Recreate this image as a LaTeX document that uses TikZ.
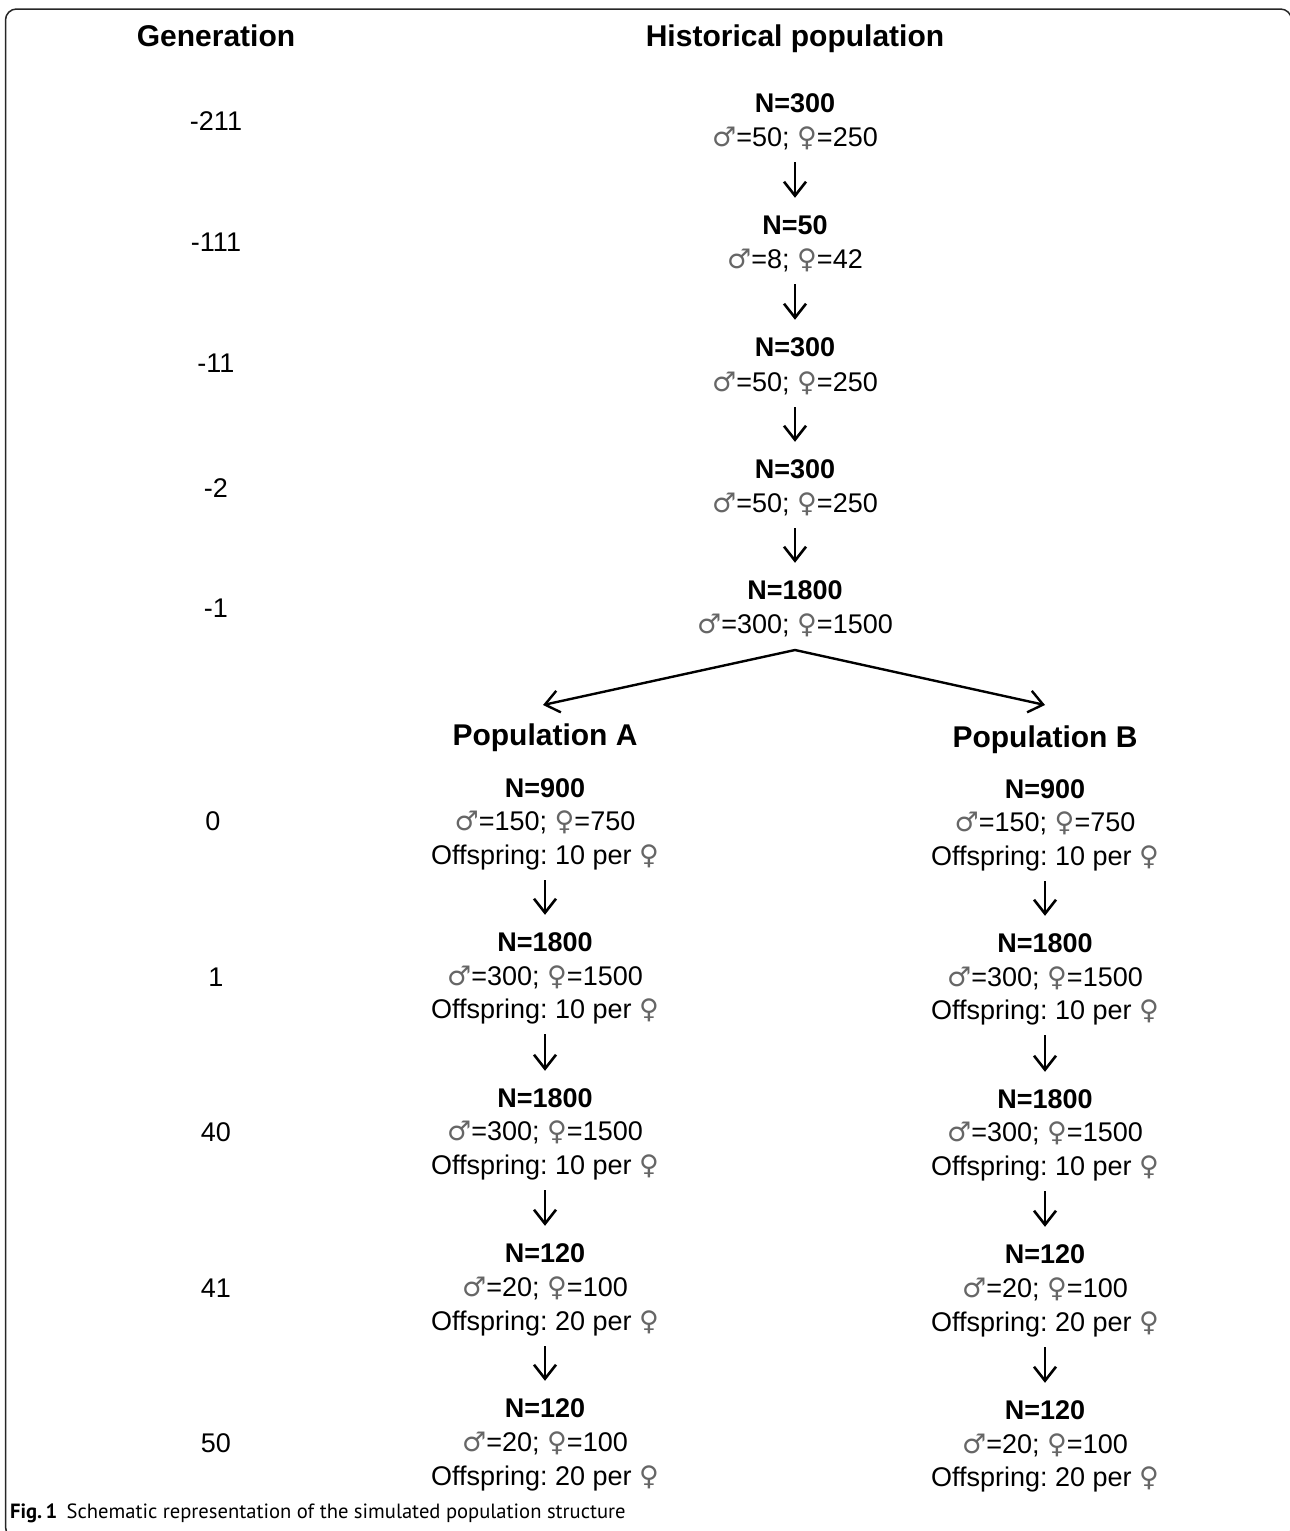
\documentclass[tikz,border=0pt]{standalone}
\usepackage{fontspec}
\setmainfont{Liberation Sans}
\newfontfamily\capfont{PT Sans}
\newfontfamily\symf{DejaVu Sans}
\usetikzlibrary{arrows.meta}
\newcommand{\msym}{{\symf\color{black!60}♂}}
\newcommand{\fsym}{{\symf\color{black!60}♀}}
\frenchspacing
\begin{document}
\begin{tikzpicture}[x=1pt,y=-1pt,
  body/.style={anchor=base,inner sep=0pt,text height=20pt,text depth=6pt,font=\fontsize{27}{32}\selectfont},
  nline/.style={anchor=base,inner sep=0pt,text height=20pt,text depth=6pt,font=\fontsize{27}{32}\selectfont\bfseries},
  head/.style={anchor=base,inner sep=0pt,text height=22pt,text depth=6pt,font=\fontsize{30}{36}\selectfont\bfseries},
  arr/.style={-{Straight Barb[length=14pt,width=22pt]},line width=2.6pt,shorten <=10pt,shorten >=16pt},
  splitarr/.style={-{Straight Barb[length=14pt,width=22pt]},line width=2.4pt},
  frame/.style={line width=1.5pt,black!85,rounded corners=11pt}
]
\useasboundingbox (0,0) rectangle (1290,1531);
\draw[frame] (5.5,9) rectangle (1291.5,1538);

% headers
\node[head] (genhead) at (216,46.7) {Generation};
\node[head] (histhead) at (795,46.7) {Historical population};
\node[head] (pophA) at (545,745.7) {Population A};
\node[head] (pophB) at (1045,747.7) {Population B};

% generation numbers
\node[body] (g1) at (216,130) {-211};
\node[body] (g2) at (216,251) {-111};
\node[body] (g3) at (216,372) {-11};
\node[body] (g4) at (216,497) {-2};
\node[body] (g5) at (216,617) {-1};
\node[body] (g6) at (213,830) {0};
\node[body] (g7) at (216,986) {1};
\node[body] (g8) at (216,1141) {40};
\node[body] (g9) at (216,1297) {41};
\node[body] (g10) at (216,1452) {50};

% historical population
\node[nline] (h1a) at (795,112) {N=300};
\node[body]  (h1b) at (795,146) {\msym=50; \fsym=250};
\node[nline] (h2a) at (795,234) {N=50};
\node[body]  (h2b) at (795,268) {\msym=8; \fsym=42};
\node[nline] (h3a) at (795,356) {N=300};
\node[body]  (h3b) at (795,391) {\msym=50; \fsym=250};
\node[nline] (h4a) at (795,478) {N=300};
\node[body]  (h4b) at (795,512) {\msym=50; \fsym=250};
\node[nline] (h5a) at (795,599) {N=1800};
\node[body]  (h5b) at (795,633) {\msym=300; \fsym=1500};

\draw[arr] (h1b.south) -- (h2a.north);
\draw[arr] (h2b.south) -- (h3a.north);
\draw[arr] (h3b.south) -- (h4a.north);
\draw[arr] (h4b.south) -- (h5a.north);

\coordinate (apex) at (795,650);
\coordinate (tipA) at (543,705);
\coordinate (tipB) at (1045,705);
\draw[splitarr] (apex) -- (tipA);
\draw[splitarr] (apex) -- (tipB);

% population A
\node[nline] (a1a) at (545,797) {N=900};
\node[body]  (a1b) at (545,830) {\msym=150; \fsym=750};
\node[body]  (a1c) at (545,864) {Offspring: 10 per \fsym};
\node[nline] (a2a) at (545,951) {N=1800};
\node[body]  (a2b) at (545,985) {\msym=300; \fsym=1500};
\node[body]  (a2c) at (545,1018) {Offspring: 10 per \fsym};
\node[nline] (a3a) at (545,1107) {N=1800};
\node[body]  (a3b) at (545,1140) {\msym=300; \fsym=1500};
\node[body]  (a3c) at (545,1174) {Offspring: 10 per \fsym};
\node[nline] (a4a) at (545,1262) {N=120};
\node[body]  (a4b) at (545,1296) {\msym=20; \fsym=100};
\node[body]  (a4c) at (545,1330) {Offspring: 20 per \fsym};
\node[nline] (a5a) at (545,1417) {N=120};
\node[body]  (a5b) at (545,1451) {\msym=20; \fsym=100};
\node[body]  (a5c) at (545,1485) {Offspring: 20 per \fsym};
\draw[arr] (a1c.south) -- (a2a.north);
\draw[arr] (a2c.south) -- (a3a.north);
\draw[arr] (a3c.south) -- (a4a.north);
\draw[arr] (a4c.south) -- (a5a.north);

% population B
\node[nline] (b1a) at (1045,798) {N=900};
\node[body]  (b1b) at (1045,831) {\msym=150; \fsym=750};
\node[body]  (b1c) at (1045,865) {Offspring: 10 per \fsym};
\node[nline] (b2a) at (1045,952) {N=1800};
\node[body]  (b2b) at (1045,986) {\msym=300; \fsym=1500};
\node[body]  (b2c) at (1045,1019) {Offspring: 10 per \fsym};
\node[nline] (b3a) at (1045,1108) {N=1800};
\node[body]  (b3b) at (1045,1141) {\msym=300; \fsym=1500};
\node[body]  (b3c) at (1045,1175) {Offspring: 10 per \fsym};
\node[nline] (b4a) at (1045,1263) {N=120};
\node[body]  (b4b) at (1045,1297) {\msym=20; \fsym=100};
\node[body]  (b4c) at (1045,1331) {Offspring: 20 per \fsym};
\node[nline] (b5a) at (1045,1419) {N=120};
\node[body]  (b5b) at (1045,1453) {\msym=20; \fsym=100};
\node[body]  (b5c) at (1045,1486) {Offspring: 20 per \fsym};
\draw[arr] (b1c.south) -- (b2a.north);
\draw[arr] (b2c.south) -- (b3a.north);
\draw[arr] (b3c.south) -- (b4a.north);
\draw[arr] (b4c.south) -- (b5a.north);

% caption
\node[anchor=base west,inner sep=0pt,font=\capfont\fontsize{20.6}{24}\selectfont] (cap) at (10,1518)
  {\textbf{Fig.\,1}\hspace{0.45em}Schematic representation of the simulated population structure};
\end{tikzpicture}
\end{document}
